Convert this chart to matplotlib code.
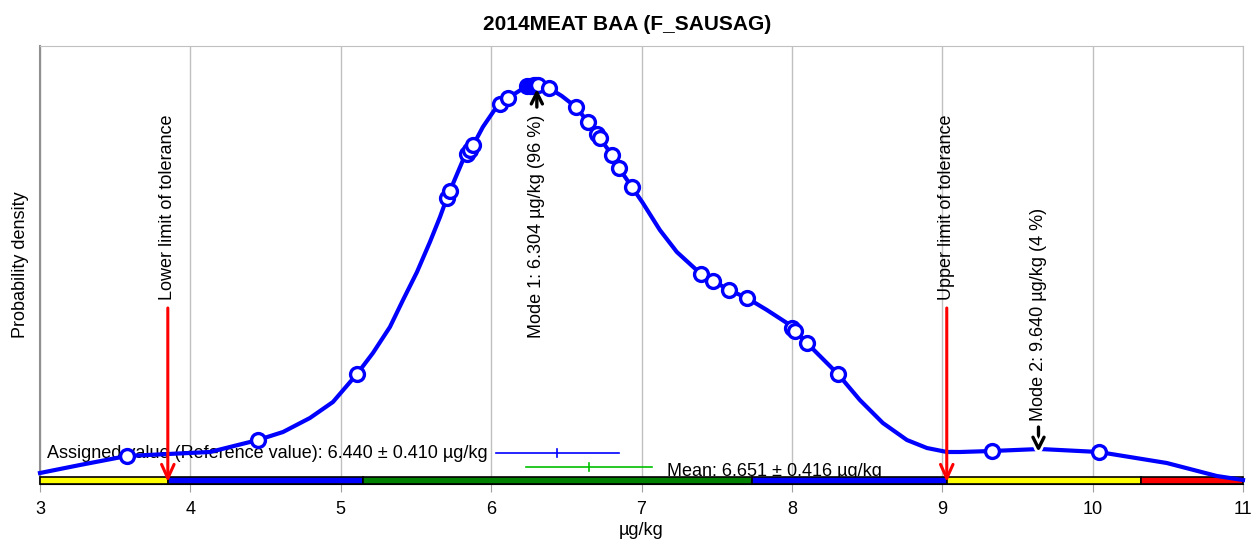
import matplotlib
matplotlib.use('Agg')
import matplotlib.pyplot as plt
import matplotlib.patheffects as pe
import numpy as np

plt.rcParams['font.family'] = ['Liberation Sans', 'DejaVu Sans']

# kernel density curve
curve_x = [3.0, 3.266, 3.578, 3.851, 4.13, 4.449, 4.616, 4.795, 4.948, 5.108, 5.214, 5.327,
           5.414, 5.507, 5.593, 5.660, 5.706, 5.813, 5.892, 5.945, 6.045, 6.112, 6.238, 6.311,
           6.384, 6.47, 6.564, 6.644, 6.723, 6.803, 6.850, 6.936, 7.009, 7.122, 7.235, 7.388,
           7.581, 7.701, 7.834, 7.967, 8.100, 8.306, 8.452, 8.605, 8.765, 8.898, 9.031, 9.117,
           9.33, 9.649, 10.041, 10.493, 10.826, 11.0]
curve_d = [0.011, 0.019, 0.028, 0.030, 0.032, 0.044, 0.052, 0.066, 0.082, 0.110, 0.131, 0.157,
           0.184, 0.212, 0.242, 0.267, 0.286, 0.324, 0.342, 0.357, 0.379, 0.386, 0.398, 0.399,
           0.396, 0.388, 0.377, 0.362, 0.346, 0.329, 0.316, 0.297, 0.281, 0.254, 0.232, 0.211,
           0.194, 0.186, 0.174, 0.161, 0.141, 0.110, 0.084, 0.061, 0.044, 0.036, 0.032, 0.032,
           0.033, 0.035, 0.032, 0.021, 0.008, 0.004]

# participant results
results = [3.578, 4.449, 5.108, 5.706, 5.726, 5.839, 5.859, 5.879, 6.059, 6.112,
           6.238, 6.258, 6.271, 6.285, 6.298, 6.311, 6.384, 6.564, 6.644, 6.703,
           6.723, 6.803, 6.850, 6.936, 7.395, 7.475, 7.581, 7.701, 8.0, 8.02,
           8.1, 8.306, 9.33, 10.041]

assigned = 6.440
assigned_u = 0.410
mean = 6.651
mean_u = 0.416
sigma_p = 1.295
lower_limit = 3.85
upper_limit = 9.03
modes = [6.304, 9.640]
mode_share = [96, 4]

zone_edges = [3.0, assigned - 2 * sigma_p, assigned - sigma_p, assigned + sigma_p,
              assigned + 2 * sigma_p, assigned + 3 * sigma_p, 11.0]
zone_colors = ['#FFFF00', '#0000FF', '#008000', '#0000FF', '#FFFF00', '#FF0000']

fig = plt.figure(figsize=(12.54, 5.39), dpi=100)
ax = fig.add_axes([40 / 1254, 1 - 484 / 539, 1203 / 1254, 438 / 539])
ax.set_xlim(3, 11)
ax.set_ylim(0, 0.438)

ax.set_xticks(range(3, 12))
ax.grid(axis='x', color='#C0C0C0', lw=1)
ax.set_axisbelow(True)
ax.set_yticks([])
ax.tick_params(axis='x', direction='out', length=6, color='#A0A0A0', labelsize=13, pad=6)
for side in ['top', 'right']:
    ax.spines[side].set_color('#C0C0C0')
ax.spines['left'].set_color('#909090')
ax.spines['left'].set_linewidth(1.5)
ax.spines['bottom'].set_color('black')

fs = 13
fig.suptitle('2014MEAT BAA (F_SAUSAG)', x=0.5, y=1 - 25 / 539, va='center',
             fontsize=15, fontweight='bold')
ax.set_xlabel('µg/kg', fontsize=fs, labelpad=3)
ax.set_ylabel('Probability density', fontsize=fs, labelpad=8)

# z-score zones bar
bar_h = 0.0075
for i in range(len(zone_colors)):
    ax.bar(zone_edges[i], bar_h, width=zone_edges[i + 1] - zone_edges[i], align='edge',
           color=zone_colors[i], edgecolor='black', lw=1.2, zorder=3, clip_on=False)

# assigned value and mean with uncertainties
ax.plot([assigned - assigned_u, assigned + assigned_u], [0.031, 0.031], color='#0000FF', lw=1.2, zorder=2)
ax.plot([assigned, assigned], [0.027, 0.035], color='#0000FF', lw=1.2, zorder=2)
ax.plot([mean - mean_u, mean + mean_u], [0.017, 0.017], color='#00C000', lw=1.2, zorder=2)
ax.plot([mean, mean], [0.013, 0.021], color='#00C000', lw=1.2, zorder=2)
ax.text(assigned - assigned_u - 0.05, 0.031,
        'Assigned value (Reference value): %.3f ± %.3f µg/kg' % (assigned, assigned_u),
        ha='right', va='center', fontsize=fs, zorder=2)
ax.text(mean + mean_u + 0.1, 0.0125, 'Mean: %.3f ± %.3f µg/kg' % (mean, mean_u),
        ha='left', va='center', fontsize=fs, zorder=2)

# density curve and results
ax.plot(curve_x, curve_d, color='#0000FF', lw=3, zorder=5, clip_on=False)
ax.plot(results, np.interp(results, curve_x, curve_d), 'o', ms=10, mfc='white',
        mec='#0000FF', mew=2.4, zorder=6)

# tolerance limits
for lim, lab in [(lower_limit, 'Lower limit of tolerance'), (upper_limit, 'Upper limit of tolerance')]:
    ax.annotate('', xy=(lim, 0.002), xytext=(lim, 0.176),
                arrowprops=dict(arrowstyle='->, head_length=1.0, head_width=0.45',
                                color='#FF0000', lw=2.2, shrinkA=0, shrinkB=0), zorder=7)
    ax.text(lim, 0.184, lab, rotation=90, ha='center', va='bottom', fontsize=fs)

# modes
m1 = np.interp(modes[0], curve_x, curve_d)
ax.annotate('', xy=(modes[0], m1 - 0.004), xytext=(modes[0], m1 - 0.022),
            arrowprops=dict(arrowstyle='->, head_length=0.8, head_width=0.4', color='black', lw=2.4,
                            shrinkA=0, shrinkB=0),
            zorder=7)
ax.text(modes[0], m1 - 0.030, 'Mode 1: %.3f µg/kg (%d %%)' % (modes[0], mode_share[0]),
        rotation=90, ha='center', va='top', fontsize=fs)

m2 = np.interp(modes[1], curve_x, curve_d)
ax.annotate('', xy=(modes[1], m2 - 0.003), xytext=(modes[1], m2 + 0.022),
            arrowprops=dict(arrowstyle='->, head_length=0.8, head_width=0.4', color='black',
                            lw=2.4, shrinkA=0, shrinkB=0,
                            path_effects=[pe.withStroke(linewidth=6, foreground='white')]),
            zorder=7)
ax.text(modes[1], m2 + 0.028, 'Mode 2: %.3f µg/kg (%d %%)' % (modes[1], mode_share[1]),
        rotation=90, ha='center', va='bottom', fontsize=fs)

fig.savefig('out.png', dpi=100)
